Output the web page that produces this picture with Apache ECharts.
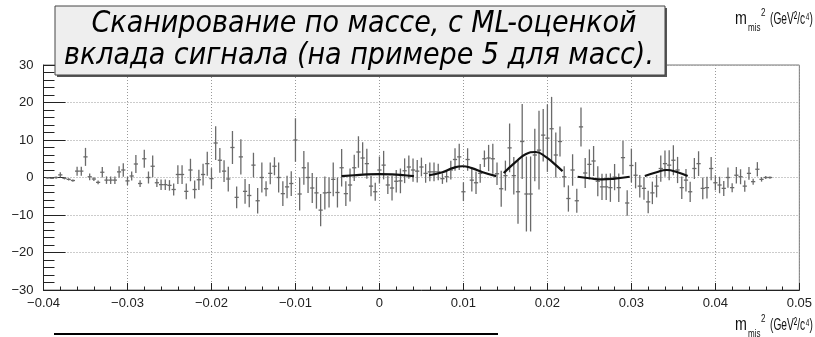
<!DOCTYPE html>
<html>
<head>
<meta charset="utf-8">
<script src="https://cdn.jsdelivr.net/npm/echarts@6/dist/echarts.min.js"></script>
<style>
  html, body { margin: 0; padding: 0; background: #fff; }
  #chart { width: 815px; height: 337px; }
</style>
</head>
<body>
<div id="chart"></div>
<script>
// Histogram binning: bins of 0.0005 GeV^2/c^4, first filled bin centred at -0.0395
const firstBinCenter = -0.0395;
const binWidth = 0.0005;

// Bin contents (after background subtraction) and their errors
const counts = [
  -0.1, -0.2, 0.0, 0.7, -0.2, -0.5, -0.8, 1.7, 1.7, 5.5,
  0.2, -0.4, -1.3, 1.4, -0.7, -0.7, -0.7, 1.5, 2.0, -0.9,
  0.4, 3.6, -1.6, 5.0, 0.0, 3.0, -1.4, -1.9, -1.9, -2.1,
  -3.2, 0.8, 0.8, -3.7, 2.0, -3.2, -0.6, 0.8, 3.7, -0.3,
  9.2, 4.6, 1.7, -0.4, 8.0, -5.3, 5.5, -3.7, -4.8, 3.3,
  -6.2, 0.0, -3.0, 1.1, 3.0, 0.0, -4.3, -2.5, -1.6, 10.0,
  -4.4, 2.6, 0.0, -2.8, -4.1, -8.7, -4.1, -4.0, -0.5, -4.0,
  2.6, -4.3, -2.0, 2.6, 6.8, 5.2, 3.7, -2.3, -3.8, 2.0,
  3.3, -2.0, -2.8, -1.0, -0.9, 1.8, 2.8, 2.0, 1.7, 2.8,
  1.1, 1.5, 1.5, 1.5, -0.3, 0.2, 2.0, 4.8, 5.5, -3.8,
  4.8, -0.7, -1.4, 1.1, 5.0, 5.2, 5.0, 1.0, -3.0, 0.5,
  7.9, 0.5, -3.8, 9.6, -4.4, -4.4, 6.0, 7.3, 11.3, 10.5,
  13.0, 6.0, 9.6, 0.2, -5.6, 2.0, -6.2, 13.5, 1.2, 3.5,
  4.4, -1.0, -2.5, -2.5, -2.7, 0.1, -2.7, 5.3, -6.8, 3.2,
  0.6, -2.3, -2.9, -6.5, -4.1, -2.3, 2.4, 3.7, 3.3, 4.6,
  2.0, -2.7, -0.7, -3.8, 2.4, 3.7, -2.9, -2.7, 2.4, -1.4,
  -2.0, -2.9, 0.0, -2.7, 0.6, 0.2, -2.3, 1.1, -1.1, 2.2,
  -0.5, 0.0, 0.0
];
const errors = [
  0.2, 0.2, 0.3, 0.7, 0.3, 0.3, 0.3, 1.2, 1.2, 2.4,
  0.9, 0.5, 0.5, 1.4, 1.0, 1.0, 1.0, 1.5, 1.8, 1.1,
  1.2, 2.4, 0.9, 2.4, 1.6, 2.9, 1.1, 1.4, 1.4, 1.4,
  1.6, 2.5, 2.5, 2.1, 3.0, 2.4, 2.7, 2.9, 3.2, 2.8,
  4.5, 3.3, 2.9, 3.3, 4.4, 2.9, 4.7, 3.3, 3.1, 3.3,
  3.4, 4.0, 2.0, 2.9, 2.4, 4.0, 3.3, 3.0, 3.3, 5.8,
  4.4, 4.5, 4.1, 4.0, 4.2, 4.3, 4.4, 4.0, 4.5, 4.0,
  5.0, 3.3, 4.4, 3.5, 4.2, 4.2, 4.0, 2.7, 2.4, 3.6,
  3.8, 2.4, 3.3, 3.0, 3.3, 3.3, 3.1, 3.1, 3.0, 2.5,
  2.5, 2.5, 2.5, 2.2, 1.4, 1.5, 2.5, 3.0, 3.5, 2.5,
  3.0, 3.0, 3.0, 2.5, 2.2, 3.5, 4.0, 3.0, 4.8, 4.0,
  6.5, 5.0, 8.5, 10.0, 10.0, 10.0, 7.0, 10.5, 7.0, 9.0,
  8.5, 6.0, 4.0, 2.8, 3.5, 4.2, 3.2, 5.2, 4.0, 4.0,
  4.0, 4.0, 3.5, 3.5, 3.8, 3.5, 3.8, 4.5, 3.4, 4.5,
  3.5, 3.0, 3.0, 3.0, 3.0, 3.0, 3.5, 3.5, 4.0, 4.0,
  3.5, 3.0, 3.0, 2.7, 2.8, 3.3, 2.9, 2.9, 3.1, 2.0,
  2.2, 2.0, 2.7, 1.2, 2.2, 2.0, 1.5, 1.7, 0.8, 1.9,
  0.6, 0.4, 0.3
];

// Fitted signal shapes in the five mass windows: [x, y] samples
const fit1 = [[-0.0045, 0.35], [-0.003, 0.6], [-0.0015, 0.85], [0.0, 0.9], [0.0015, 0.85], [0.003, 0.6], [0.0041, 0.35]];
const fit2 = [[0.0059, 0.6], [0.0075, 1.4], [0.0087, 2.5], [0.0099, 3.0], [0.011, 2.5], [0.0123, 1.4], [0.0139, 0.35]];
const fit3 = [[0.0148, 1.2], [0.0162, 4.1], [0.0174, 6.2], [0.0186, 6.8], [0.0198, 5.5], [0.0208, 3.7], [0.0218, 1.7]];
const fit4 = [[0.0236, 0.2], [0.025, -0.2], [0.0265, -0.5], [0.028, -0.3], [0.0298, 0.2]];
const fit5 = [[0.0316, 0.4], [0.033, 1.4], [0.0342, 2.0], [0.0355, 1.4], [0.0367, 0.4]];

// Axis ranges and labels
const xRange = [-0.04, 0.05];
const yRange = [-30, 30];
const xTickLabels = ['\u22120.04', '\u22120.03', '\u22120.02', '\u22120.01', '0', '0.01', '0.02', '0.03', '0.04', '0.05'];
const titleLines = ['Сканирование по массе, с ML-оценкой', 'вклада сигнала (на примере 5 для масс).'];

const histData = counts.map((v, i) => [firstBinCenter + i * binWidth, v, errors[i]]);

const chart = echarts.init(document.getElementById('chart'), null, { renderer: 'canvas' });

const labelFont = { fontFamily: 'Liberation Sans, Arial, sans-serif', fontSize: 13, color: '#222' };

function renderBin(params, api) {
  const x = api.value(0), y = api.value(1), e = api.value(2);
  const c = api.coord([x, y]);
  const hi = api.coord([x, y + e]);
  const lo = api.coord([x, y - e]);
  const half = api.size([binWidth, 0])[0] / 2;
  const st = { stroke: '#6a6a6a', lineWidth: 1.3 };
  return {
    type: 'group',
    children: [
      { type: 'line', shape: { x1: c[0] - half, y1: c[1], x2: c[0] + half, y2: c[1] }, style: st },
      { type: 'line', shape: { x1: c[0], y1: hi[1], x2: c[0], y2: lo[1] }, style: st }
    ]
  };
}

function fitSeries(data) {
  return {
    type: 'line', data: data, smooth: 0.5, showSymbol: false, symbol: 'none',
    lineStyle: { color: '#111', width: 2.2 }, z: 5, silent: true
  };
}

// axis title m_mis^2 (GeV^2/c^4), drawn from its left edge, horizontally condensed
function unitsText(x, y) {
  const f = '"Liberation Sans", Arial, sans-serif';
  return [
    { type: 'text', x: x, y: y, scaleX: 0.75, style: { text: 'm', fontSize: 19, fontFamily: f, fill: '#111', verticalAlign: 'middle' } },
    { type: 'text', x: x + 13, y: y + 9, scaleX: 0.8, style: { text: 'mis', fontSize: 10, fontFamily: f, fill: '#111', verticalAlign: 'middle' } },
    { type: 'text', x: x + 26, y: y - 6, scaleX: 0.8, style: { text: '2', fontSize: 10, fontFamily: f, fill: '#111', verticalAlign: 'middle' } },
    { type: 'text', x: x + 35, y: y, scaleX: 0.6, style: { text: '(GeV\u00b2/c\u2074)', fontSize: 17, fontFamily: f, fill: '#111', verticalAlign: 'middle' } }
  ];
}

const option = {
  animation: false,
  backgroundColor: '#fff',
  grid: { left: 43.5, right: 14.5, top: 65, bottom: 47, show: true, borderColor: '#777', borderWidth: 1, backgroundColor: 'transparent' },
  xAxis: {
    type: 'value', min: xRange[0], max: xRange[1], interval: 0.01,
    axisLine: { onZero: false, lineStyle: { color: '#222', width: 1 } },
    axisTick: { inside: true, length: 7, lineStyle: { color: '#222' } },
    minorTick: { show: true, splitNumber: 5, length: 3.5, lineStyle: { color: '#222' } },
    splitLine: { show: true, lineStyle: { color: '#999', type: [1, 2], width: 1 } },
    axisLabel: Object.assign({ margin: 7, formatter: (v) => xTickLabels[Math.round((v - xRange[0]) / 0.01)] || '' }, labelFont)
  },
  yAxis: {
    type: 'value', min: yRange[0], max: yRange[1], interval: 10,
    axisLine: { onZero: false, lineStyle: { color: '#222', width: 1 } },
    axisTick: { inside: true, length: 22, lineStyle: { color: '#222' } },
    minorTick: { show: true, splitNumber: 5, length: 11, lineStyle: { color: '#222' } },
    splitLine: { show: true, lineStyle: { color: '#999', type: [1, 2], width: 1 } },
    axisLabel: Object.assign({ margin: 10, formatter: (v) => (v < 0 ? '\u2212' + Math.abs(v) : String(v)) }, labelFont)
  },
  series: [
    { type: 'custom', renderItem: renderBin, data: histData, encode: { x: 0, y: 1 }, clip: true, z: 3, silent: true },
    fitSeries(fit1), fitSeries(fit2), fitSeries(fit3), fitSeries(fit4), fitSeries(fit5)
  ],
  graphic: [
    // title pave with shadow
    { type: 'rect', shape: { x: 57, y: 8, width: 610, height: 69 }, style: { fill: '#555' }, z: 100 },
    { type: 'rect', shape: { x: 55, y: 6, width: 610, height: 69 }, style: { fill: '#eeeeee', stroke: '#444', lineWidth: 1 }, z: 101 },
    { type: 'text', x: 364, y: 24, z: 102, style: { text: titleLines[0], font: 'italic 30px "DejaVu Sans Condensed", "DejaVu Sans", sans-serif', fill: '#000', textAlign: 'center', textVerticalAlign: 'middle' } },
    { type: 'text', x: 359, y: 56, z: 102, style: { text: titleLines[1], font: 'italic 30px "DejaVu Sans Condensed", "DejaVu Sans", sans-serif', fill: '#000', textAlign: 'center', textVerticalAlign: 'middle' } },
    { type: 'group', children: unitsText(735, 19), z: 102 },
    { type: 'group', children: unitsText(735, 325), z: 102 },
    { type: 'line', shape: { x1: 54, y1: 334, x2: 498, y2: 334 }, style: { stroke: '#000', lineWidth: 2 }, z: 102 }
  ]
};

chart.setOption(option);
</script>
</body>
</html>
